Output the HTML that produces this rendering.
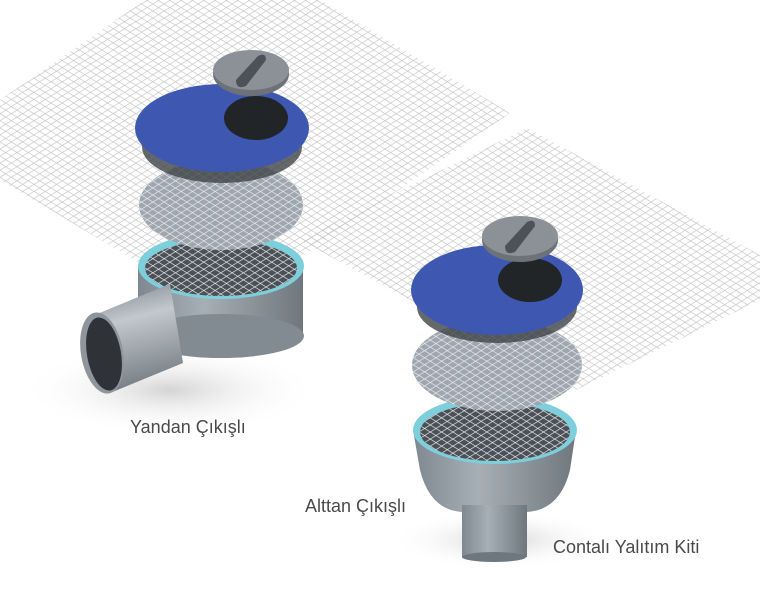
<!DOCTYPE html>
<html><head><meta charset="utf-8"><style>
html,body{margin:0;padding:0;background:#fff;width:760px;height:600px;overflow:hidden}
svg{display:block}
text{font-family:"Liberation Sans",sans-serif;fill:#4a4a4a;font-size:18px}
</style></head><body>
<svg width="760" height="600" viewBox="0 0 760 600">
<defs>
<pattern id="mA" width="6" height="6" patternUnits="userSpaceOnUse" patternTransform="rotate(32)">
<line x1="0" y1="0" x2="6" y2="0" stroke="#c4c4c4" stroke-width="1.3"/>
</pattern>
<pattern id="mB" width="6" height="6" patternUnits="userSpaceOnUse" patternTransform="rotate(-32)">
<line x1="0" y1="0" x2="6" y2="0" stroke="#c4c4c4" stroke-width="1.3"/>
</pattern>
<pattern id="wA" width="6" height="6" patternUnits="userSpaceOnUse" patternTransform="rotate(32)">
<line x1="0" y1="0" x2="6" y2="0" stroke="#eee" stroke-width="1.3"/>
</pattern>
<pattern id="wB" width="6" height="6" patternUnits="userSpaceOnUse" patternTransform="rotate(-32)">
<line x1="0" y1="0" x2="6" y2="0" stroke="#eee" stroke-width="1.3"/>
</pattern>
<linearGradient id="body" x1="0" x2="1"><stop offset="0" stop-color="#7f8890"/><stop offset="0.4" stop-color="#a7afb6"/><stop offset="1" stop-color="#6f777e"/></linearGradient>
<linearGradient id="pipe" x1="0.4" y1="0" x2="0.6" y2="1"><stop offset="0" stop-color="#8a939a"/><stop offset="0.3" stop-color="#c2c8cd"/><stop offset="1" stop-color="#6d757c"/></linearGradient>
<radialGradient id="shadow" cx="0.5" cy="0.5" r="0.5"><stop offset="0" stop-color="#d4d4d4"/><stop offset="1" stop-color="#fff" stop-opacity="0"/></radialGradient>
</defs>
<ellipse cx="170" cy="390" rx="150" ry="45" fill="url(#shadow)"/>
<ellipse cx="500" cy="540" rx="110" ry="30" fill="url(#shadow)"/>
<g>
<polygon points="145,0 320,0 510,113 222,312 0,180 0,100" fill="url(#mA)"/>
<polygon points="145,0 320,0 510,113 222,312 0,180 0,100" fill="url(#mB)"/>
<polygon points="527,128 760,255 760,300 576,390 300,240" fill="url(#mA)"/>
<polygon points="527,128 760,255 760,300 576,390 300,240" fill="url(#mB)"/>
</g>

<!-- Drain 1 -->
<rect x="138" y="266" width="165" height="70" fill="url(#body)"/>
<ellipse cx="221" cy="336" rx="83" ry="22" fill="#838b92"/>
<ellipse cx="221" cy="266" rx="83" ry="33" fill="#7ecfdc"/>
<ellipse cx="221" cy="268" rx="76" ry="28" fill="#4a5056"/>
<ellipse cx="221" cy="268" rx="76" ry="28" fill="url(#wA)"/>
<ellipse cx="221" cy="268" rx="76" ry="28" fill="url(#wB)"/>
<path d="M97,314 L170,284 L183,363 L110,393 Z" fill="url(#pipe)"/>
<ellipse cx="102" cy="353" rx="21" ry="41" transform="rotate(-10 102 353)" fill="#8e969c"/>
<ellipse cx="104" cy="354" rx="17" ry="37" transform="rotate(-10 104 354)" fill="#2f3337"/>
<ellipse cx="221" cy="205" rx="82" ry="45" fill="#9ea6b0"/>
<ellipse cx="221" cy="205" rx="82" ry="45" fill="url(#wA)"/>
<ellipse cx="221" cy="205" rx="82" ry="45" fill="url(#wB)"/>
<ellipse cx="222" cy="147" rx="80" ry="36" fill="#3f4347" opacity="0.8"/>
<ellipse cx="222" cy="128" rx="87" ry="44" fill="#3e58b2"/>
<ellipse cx="256" cy="118" rx="32" ry="22" fill="#222528"/>
<ellipse cx="251" cy="74" rx="38" ry="22" fill="#6c7278"/>
<ellipse cx="251" cy="70" rx="38" ry="20" fill="#8b9197"/>
<path d="M236,80 L258,56 Q266,52 266,60 L246,86 Q236,90 236,80Z" fill="#4d5258"/>

<!-- Drain 2 -->
<path d="M413,430 L420,470 Q430,510 462,512 L527,512 Q560,510 570,470 L576,430Z" fill="url(#body)"/>
<rect x="462" y="505" width="65" height="52" fill="url(#body)"/>
<ellipse cx="494" cy="557" rx="32" ry="5" fill="#6f777e"/>
<ellipse cx="495" cy="430" rx="82" ry="34" fill="#7ecfdc"/>
<ellipse cx="495" cy="432" rx="75" ry="29" fill="#4a5056"/>
<ellipse cx="495" cy="432" rx="75" ry="29" fill="url(#wA)"/>
<ellipse cx="495" cy="432" rx="75" ry="29" fill="url(#wB)"/>
<ellipse cx="497" cy="365" rx="85" ry="46" fill="#9ea6b0"/>
<ellipse cx="497" cy="365" rx="85" ry="46" fill="url(#wA)"/>
<ellipse cx="497" cy="365" rx="85" ry="46" fill="url(#wB)"/>
<ellipse cx="497" cy="307" rx="80" ry="36" fill="#3f4347" opacity="0.8"/>
<ellipse cx="497" cy="290" rx="86" ry="45" fill="#3e58b2"/>
<ellipse cx="530" cy="280" rx="32" ry="22" fill="#222528"/>
<ellipse cx="520" cy="240" rx="38" ry="22" fill="#6c7278"/>
<ellipse cx="520" cy="236" rx="38" ry="20" fill="#8b9197"/>
<path d="M505,246 L527,222 Q535,218 535,226 L515,252 Q505,256 505,246Z" fill="#4d5258"/>

<text x="130" y="433">Yandan Çıkışlı</text>
<text x="305" y="512">Alttan Çıkışlı</text>
<text x="553" y="553">Contalı Yalıtım Kiti</text>
</svg>
</body></html>
